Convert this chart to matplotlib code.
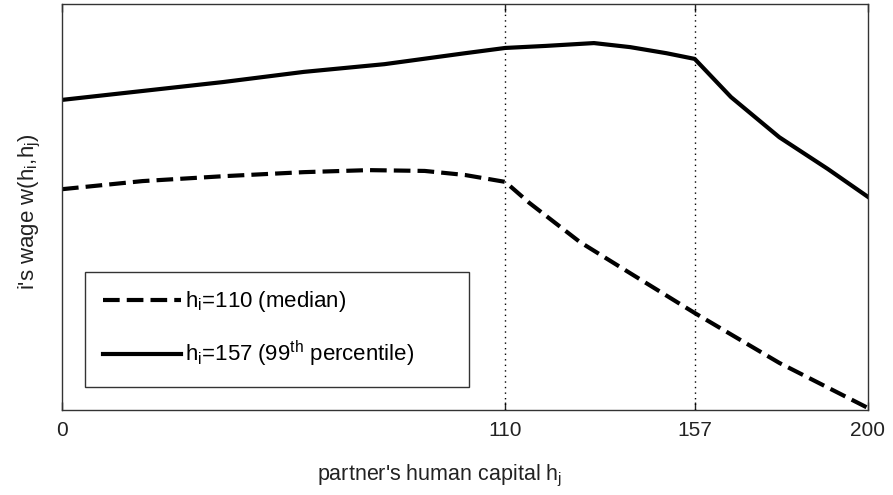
import matplotlib
matplotlib.use("Agg")
import matplotlib.pyplot as plt

plt.rcParams['font.family'] = ['Liberation Sans', 'DejaVu Sans']
plt.rcParams['mathtext.fontset'] = 'custom'
plt.rcParams['mathtext.rm'] = 'Liberation Sans'
plt.rcParams['mathtext.it'] = 'Liberation Sans'
plt.rcParams['mathtext.bf'] = 'Liberation Sans:bold'

# partner's human capital h_j  vs  i's wage (arbitrary units)
x_top = [0, 20, 40, 60, 80, 100, 110, 120, 132, 141, 150, 157, 166, 178, 190, 200]
w_top = [0.764, 0.786, 0.808, 0.833, 0.852, 0.879, 0.892, 0.897, 0.904, 0.894,
         0.879, 0.865, 0.771, 0.672, 0.594, 0.525]

x_med = [0, 20, 40, 60, 76, 90, 100, 110, 116, 128.5, 141, 157, 178, 200]
w_med = [0.544, 0.564, 0.576, 0.586, 0.591, 0.589, 0.579, 0.562, 0.510, 0.414,
         0.337, 0.239, 0.116, 0.005]

vlines = [110, 157]
xticks = [0, 110, 157, 200]

fig = plt.figure(figsize=(8.93, 4.95), dpi=100)
ax = fig.add_axes([0.0694, 0.1717, 0.9026, 0.820])

ax.plot(x_med, w_med, color='black', lw=3, dashes=(4, 1.7),
        label=r'h$_i$=110 (median)')
ax.plot(x_top, w_top, color='black', lw=3,
        label=r'h$_i$=157 (99$^{th}$ percentile)')
for v in vlines:
    ax.axvline(v, color='black', lw=1, ls=(0, (1, 3)))

ax.set_xlim(0, 200)
ax.set_ylim(0, 1)
ax.set_xticks(xticks)
ax.set_xticklabels([str(t) for t in xticks])
ax.set_yticks([])
ax.tick_params(axis='x', direction='in', top=True, length=6, width=1,
               labelsize=15, pad=8, colors='#222222')
for s in ax.spines.values():
    s.set_color('#333333')
    s.set_linewidth(1)

ax.set_xlabel(r"partner's human capital h$_j$", fontsize=15.5, color='#222222')
ax.xaxis.set_label_coords(0.468, -0.13)
ax.set_ylabel(r"i's wage w(h$_i$,h$_j$)", fontsize=16, color='#222222')
ax.yaxis.set_label_coords(-0.024, 0.49)

leg = ax.legend(loc='lower left', bbox_to_anchor=(0.0285, 0.057, 0.476, 0.28),
                mode='expand', borderaxespad=0, fontsize=16, handlelength=3.5,
                frameon=True, fancybox=False, borderpad=0.8, labelspacing=1.1,
                handletextpad=0.2)
leg.get_frame().set_edgecolor('black')
leg.get_frame().set_linewidth(1)

fig.savefig('out.png', dpi=100)
